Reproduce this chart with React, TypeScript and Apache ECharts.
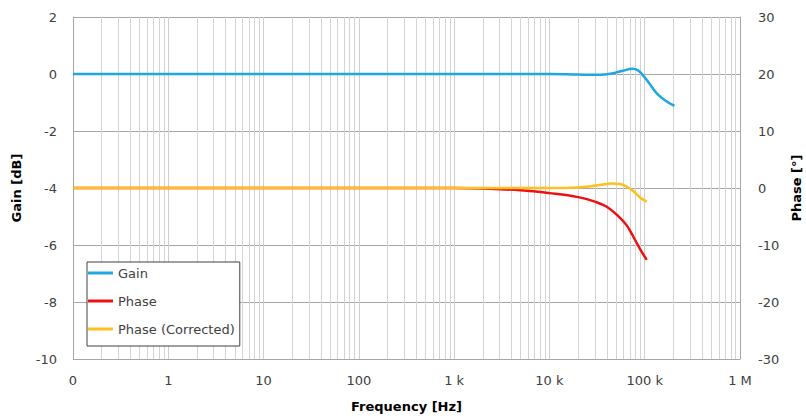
import React, { useEffect, useRef } from "react";
import * as echarts from "echarts";

const xTickLabels = ["0", "1", "10", "100", "1 k", "10 k", "100 k", "1 M"];

const gainFreq = [0.1, 1, 10, 100, 1000, 10000, 20000, 30000, 40000, 50000, 60000, 74000, 85000, 95000, 110000, 133000, 160000, 205000];
const gainDb = [0, 0, 0, 0, 0, 0, -0.02, -0.03, -0.01, 0.05, 0.12, 0.18, 0.13, -0.03, -0.3, -0.67, -0.9, -1.12];

const phaseFreq = [0.1, 1, 10, 100, 1000, 2000, 5000, 10000, 20000, 30000, 40000, 54000, 65000, 74000, 90000, 105000];
const phaseDeg = [0, 0, 0, 0, 0, -0.1, -0.4, -0.9, -1.6, -2.4, -3.3, -5.1, -6.6, -8.2, -10.8, -12.6];

const corrFreq = [0.1, 1, 10, 100, 1000, 5000, 10000, 20000, 30000, 40000, 46000, 55000, 65000, 74000, 90000, 105000];
const corrDeg = [0, 0, 0, 0, 0, 0, 0, 0.1, 0.4, 0.7, 0.8, 0.7, 0.2, -0.4, -1.7, -2.4];

const minorMultipliers = [2, 3, 4, 5, 6, 7, 8, 9];
const decadeStarts = [0.1, 1, 10, 100, 1000, 10000, 100000];

const FONT = "DejaVu Sans";

export default function App() {
  const ref = useRef<HTMLDivElement>(null);
  useEffect(() => {
    if (!ref.current) return;
    const chart = echarts.init(ref.current, null, { renderer: "svg" });
    const minorLines: any[] = [];
    decadeStarts.forEach((d) => minorMultipliers.forEach((m) => minorLines.push({ xAxis: d * m })));
    const pair = (xs: number[], ys: number[]) => xs.map((x, i) => [x, ys[i]]);
    chart.setOption({
      animation: false,
      backgroundColor: "#ffffff",
      textStyle: { fontFamily: FONT },
      grid: { left: 73, right: 66, top: 17, bottom: 59, containLabel: false, outerBoundsMode: "none" },
      legend: {
        orient: "vertical",
        left: 87,
        top: 262,
        icon: "rect",
        itemWidth: 25,
        itemHeight: 3,
        itemGap: 12,
        padding: [3, 5, 9, 1],
        backgroundColor: "#ffffff",
        borderColor: "#404040",
        borderWidth: 1,
        borderRadius: 0,
        textStyle: { fontFamily: FONT, fontSize: 13, color: "#404040", lineHeight: 16 },
        data: ["Gain", "Phase", "Phase (Corrected)"],
      },
      xAxis: {
        type: "log",
        logBase: 10,
        min: 0.1,
        max: 1e6,
        name: "Frequency [Hz]",
        nameLocation: "middle",
        nameGap: 41,
        nameTextStyle: { fontFamily: FONT, fontSize: 13, fontWeight: "bold", color: "#000000" },
        axisLine: { show: true, lineStyle: { color: "#a6a6a6", width: 1 } },
        axisTick: { show: false },
        axisLabel: {
          fontFamily: FONT,
          fontSize: 13,
          color: "#404040",
          margin: 15,
          formatter: (v: number) => xTickLabels[Math.round(Math.log10(v)) + 1] ?? "",
        },
        splitLine: { show: true, lineStyle: { color: "#cfcfcf", width: 1 } },
        minorSplitLine: { show: false },
      },
      yAxis: [
        {
          type: "value",
          min: -10,
          max: 2,
          interval: 2,
          name: "Gain [dB]",
          nameLocation: "middle",
          nameGap: 50,
          nameRotate: 90,
          nameTextStyle: { fontFamily: FONT, fontSize: 13, fontWeight: "bold", color: "#000000" },
          axisLine: { show: true, lineStyle: { color: "#a6a6a6" } },
          axisTick: { show: false },
          axisLabel: { fontFamily: FONT, fontSize: 13, color: "#404040", margin: 16 },
          splitLine: { show: true, lineStyle: { color: "#a6a6a6", width: 1 } },
        },
        {
          type: "value",
          min: -30,
          max: 30,
          interval: 10,
          name: "Phase [°]",
          nameLocation: "middle",
          nameGap: 50,
          nameRotate: 90,
          nameTextStyle: { fontFamily: FONT, fontSize: 13, fontWeight: "bold", color: "#000000" },
          axisLine: { show: true, lineStyle: { color: "#a6a6a6" } },
          axisTick: { show: false },
          axisLabel: { fontFamily: FONT, fontSize: 13, color: "#404040", margin: 18 },
          splitLine: { show: false },
        },
      ],
      series: [
        {
          name: "Gain",
          type: "line",
          yAxisIndex: 0,
          data: pair(gainFreq, gainDb),
          smooth: 0.4,
          showSymbol: false,
          symbol: "none",
          z: 4,
          color: "#1ea7e1",
          lineStyle: { color: "#1ea7e1", width: 2.5 },
          markLine: {
            silent: true,
            symbol: "none",
            z: 1,
            label: { show: false },
            lineStyle: { color: "#d4d4d4", width: 1, type: "solid" },
            data: minorLines,
          },
        },
        {
          name: "Phase",
          type: "line",
          yAxisIndex: 1,
          data: pair(phaseFreq, phaseDeg),
          smooth: 0.4,
          showSymbol: false,
          symbol: "none",
          z: 3,
          color: "#ee1111",
          lineStyle: { color: "#ee1111", width: 2.5 },
        },
        {
          name: "Phase (Corrected)",
          type: "line",
          yAxisIndex: 1,
          data: pair(corrFreq, corrDeg),
          smooth: 0.4,
          showSymbol: false,
          symbol: "none",
          z: 5,
          color: "#ffbf1f",
          lineStyle: { color: "#ffbf1f", width: 2.5 },
        },
      ],
    });
    return () => chart.dispose();
  }, []);
  return (
    <div
      ref={ref}
      style={{ position: "fixed", left: 0, top: 0, width: 806, height: 418 }}
    />
  );
}
